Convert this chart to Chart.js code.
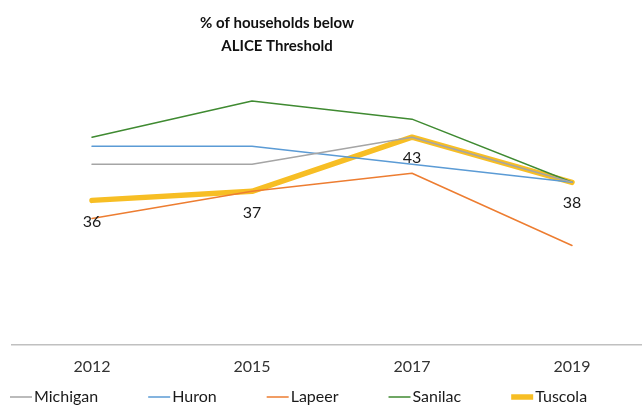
<!DOCTYPE html>
<html lang="en">
<head>
    <meta charset="UTF-8">
    <title>% of households below ALICE Threshold</title>
    <script src="https://cdn.jsdelivr.net/npm/chart.js@4.4.0/dist/chart.umd.min.js"></script>
    <style>
        html, body { margin: 0; padding: 0; background: #fff; overflow: hidden; }
        .chart-container { position: relative; width: 660px; height: 411px; }
    </style>
</head>
<body>
    <div class="chart-container">
        <canvas id="aliceChart"></canvas>
    </div>
    <script>
        // Data
        const years = ['2012', '2015', '2017', '2019'];
        const michigan = [40, 40, 43, 38];
        const huron = [42, 42, 40, 38];
        const lapeer = [34, 37, 39, 31];
        const sanilac = [43, 47, 45, 38];
        const tuscola = [36, 37, 43, 38];
        const yMin = 20;
        const yMax = 50;

        const FONT = 'Lato, "Open Sans", sans-serif';

        // Data labels under the Tuscola line
        const pointLabels = {
            id: 'pointLabels',
            afterDatasetsDraw(chart) {
                const ctx = chart.ctx;
                const idx = chart.data.datasets.findIndex(d => d.label === 'Tuscola');
                const meta = chart.getDatasetMeta(idx);
                ctx.save();
                ctx.font = '16px ' + FONT;
                ctx.fillStyle = '#1a1a1a';
                ctx.textAlign = 'center';
                ctx.textBaseline = 'middle';
                meta.data.forEach((pt, i) => {
                    ctx.fillText(String(chart.data.datasets[idx].data[i]), pt.x, pt.y + 21);
                });
                ctx.restore();
            }
        };

        // Excel-style legend: short line, label right after it
        const lineLegend = {
            id: 'lineLegend',
            afterDraw(chart) {
                const ctx = chart.ctx;
                const y = 397;
                let x = 10;
                ctx.save();
                ctx.font = '16px ' + FONT;
                ctx.textBaseline = 'middle';
                chart.data.datasets.forEach(ds => {
                    ctx.strokeStyle = ds.borderColor;
                    ctx.lineWidth = ds.borderWidth;
                    ctx.beginPath();
                    ctx.moveTo(x, y);
                    ctx.lineTo(x + 22, y);
                    ctx.stroke();
                    ctx.fillStyle = '#1a1a1a';
                    ctx.fillText(ds.label, x + 24, y);
                    x += 24 + ctx.measureText(ds.label).width + 50;
                });
                ctx.restore();
            }
        };

        // Title sits left of the canvas centre in the reference
        const shiftTitle = {
            id: 'shiftTitle',
            afterLayout(chart) {
                if (chart.titleBlock) {
                    chart.titleBlock.left = 0;
                    chart.titleBlock.right = 554;
                }
            }
        };

        const ctx = document.getElementById('aliceChart').getContext('2d');
        new Chart(ctx, {
            type: 'line',
            data: {
                labels: years,
                datasets: [
                    { label: 'Michigan', data: michigan, borderColor: '#A5A5A5', borderWidth: 1.5 },
                    { label: 'Huron', data: huron, borderColor: '#5B9BD5', borderWidth: 1.5 },
                    { label: 'Lapeer', data: lapeer, borderColor: '#ED7D31', borderWidth: 1.5 },
                    { label: 'Sanilac', data: sanilac, borderColor: '#3F8A31', borderWidth: 1.5 },
                    { label: 'Tuscola', data: tuscola, borderColor: '#F7BE24', borderWidth: 5.5 }
                ]
            },
            options: {
                responsive: true,
                maintainAspectRatio: false,
                animation: false,
                elements: {
                    point: { radius: 0, hoverRadius: 0 },
                    line: { tension: 0, fill: false, borderCapStyle: 'round', borderJoinStyle: 'round' }
                },
                layout: { padding: { left: 0, right: 8, top: 0, bottom: 23 } },
                plugins: {
                    legend: { display: false },
                    tooltip: { enabled: false },
                    title: {
                        display: true,
                        text: ['% of households below', 'ALICE Threshold'],
                        color: '#111',
                        font: { family: FONT, size: 15, weight: 'bold', lineHeight: 1.5 },
                        padding: { top: 12, bottom: 17 }
                    }
                },
                scales: {
                    x: {
                        offset: true,
                        grid: { display: false, drawTicks: false },
                        border: { display: true, color: '#C0C0C0', width: 1.5 },
                        ticks: { color: '#333', padding: 12, font: { family: FONT, size: 16 } }
                    },
                    y: {
                        min: yMin,
                        max: yMax,
                        grid: { display: false, drawTicks: false },
                        border: { display: false },
                        ticks: { display: false },
                        afterFit(scale) { scale.width = 12; }
                    }
                }
            },
            plugins: [pointLabels, lineLegend, shiftTitle]
        });
    </script>
</body>
</html>
